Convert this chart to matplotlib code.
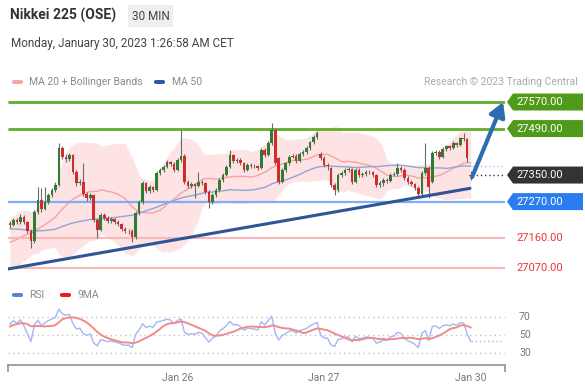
import numpy as np
import pandas as pd
import matplotlib
matplotlib.use("Agg")
import matplotlib.pyplot as plt
import matplotlib.transforms as mtransforms
from matplotlib.patches import Polygon, Rectangle, FancyBboxPatch
from matplotlib.lines import Line2D

plt.rcParams['font.family'] = ['Roboto', 'DejaVu Sans']

# ---------------- data ----------------
warmup_closes = [27230, 27245, 27238, 27250, 27262, 27255, 27248, 27260, 27252, 27240,
                 27235, 27228, 27240, 27232, 27220, 27212, 27225, 27218, 27205, 27198,
                 27210, 27202, 27190, 27182, 27195, 27185, 27172, 27165, 27178, 27160,
                 27150, 27135, 27120, 27105, 27098, 27110, 27102, 27115, 27125, 27118,
                 27135, 27150, 27145, 27165, 27172, 27185, 27180, 27198, 27192, 27205]

opens = [27205, 27200, 27215, 27208, 27225, 27208, 27182, 27150, 27238, 27275,
         27248, 27270, 27290, 27305, 27320, 27430, 27405, 27398, 27410, 27360,
         27325, 27330, 27292, 27280, 27290, 27215, 27185, 27230, 27222, 27212,
         27218, 27208, 27202, 27188, 27180, 27182, 27162, 27236, 27270, 27326,
         27302, 27314, 27306, 27356, 27365, 27374, 27388, 27383, 27366, 27395,
         27408, 27330, 27318, 27322, 27318, 27330, 27326, 27299, 27270, 27290,
         27305, 27335, 27350, 27374, 27410, 27392, 27395, 27385, 27366, 27380,
         27378, 27376, 27372, 27425, 27410, 27446, 27486, 27400, 27330, 27365,
         27385, 27404, 27408, 27392, 27412, 27419, 27430, 27449, 27465, 27412,
         27402, 27380, 27370, 27320, 27305, 27350, 27356, 27366, 27368, 27330,
         27366, 27350, 27352, 27360, 27358, 27350, 27320, 27325, 27335, 27332,
         27350, 27352, 27370, 27366, 27342, 27330, 27322, 27312, 27292, 27356,
         27372, 27330, 27416, 27420, 27405, 27428, 27437, 27432, 27446, 27440,
         27461, 27458, 27350]

highs = [27212, 27222, 27220, 27232, 27230, 27212, 27186, 27245, 27314, 27310,
         27315, 27296, 27312, 27330, 27446, 27436, 27412, 27416, 27414, 27366,
         27338, 27386, 27298, 27296, 27294, 27220, 27236, 27236, 27228, 27224,
         27222, 27214, 27206, 27194, 27188, 27186, 27242, 27276, 27332, 27330,
         27320, 27318, 27362, 27372, 27380, 27394, 27392, 27388, 27400, 27486,
         27412, 27336, 27328, 27326, 27360, 27336, 27330, 27304, 27296, 27310,
         27340, 27356, 27380, 27425, 27414, 27402, 27400, 27390, 27386, 27386,
         27382, 27380, 27430, 27430, 27452, 27507, 27490, 27404, 27370, 27390,
         27410, 27414, 27412, 27418, 27424, 27436, 27454, 27470, 27483, 27418,
         27406, 27386, 27374, 27326, 27356, 27362, 27372, 27374, 27372, 27372,
         27370, 27358, 27366, 27366, 27362, 27354, 27332, 27340, 27340, 27356,
         27358, 27386, 27376, 27370, 27346, 27334, 27326, 27316, 27362, 27446,
         27378, 27422, 27426, 27424, 27434, 27442, 27442, 27452, 27450, 27466,
         27477, 27462, 27362]

lows = [27192, 27196, 27202, 27204, 27202, 27176, 27130, 27146, 27232, 27240,
        27244, 27264, 27284, 27300, 27316, 27398, 27390, 27392, 27354, 27318,
        27320, 27286, 27272, 27274, 27208, 27160, 27180, 27216, 27206, 27206,
        27202, 27196, 27182, 27174, 27172, 27148, 27156, 27230, 27264, 27296,
        27296, 27300, 27302, 27350, 27360, 27370, 27376, 27360, 27362, 27390,
        27324, 27310, 27312, 27281, 27314, 27320, 27294, 27251, 27264, 27284,
        27300, 27330, 27346, 27370, 27386, 27386, 27380, 27360, 27362, 27372,
        27370, 27366, 27368, 27404, 27406, 27440, 27380, 27324, 27326, 27360,
        27380, 27400, 27386, 27388, 27408, 27414, 27426, 27444, 27460, 27396,
        27374, 27366, 27314, 27290, 27300, 27344, 27350, 27360, 27324, 27326,
        27344, 27344, 27346, 27352, 27344, 27314, 27314, 27318, 27326, 27328,
        27346, 27348, 27360, 27336, 27324, 27316, 27306, 27282, 27288, 27350,
        27281, 27326, 27410, 27398, 27400, 27422, 27426, 27428, 27434, 27436,
        27452, 27390, 27335]

closes = [27200, 27215, 27208, 27225, 27208, 27182, 27150, 27238, 27275, 27248,
          27270, 27290, 27305, 27320, 27430, 27405, 27398, 27410, 27360, 27325,
          27330, 27292, 27280, 27290, 27215, 27185, 27230, 27222, 27212, 27218,
          27208, 27202, 27188, 27180, 27182, 27162, 27236, 27270, 27326, 27302,
          27314, 27306, 27356, 27365, 27374, 27388, 27383, 27366, 27395, 27408,
          27330, 27318, 27322, 27318, 27330, 27326, 27299, 27270, 27290, 27305,
          27335, 27350, 27374, 27410, 27392, 27395, 27385, 27366, 27380, 27378,
          27376, 27372, 27425, 27410, 27446, 27486, 27386, 27330, 27365, 27385,
          27404, 27408, 27392, 27412, 27419, 27430, 27449, 27465, 27478, 27402,
          27380, 27376, 27320, 27305, 27350, 27356, 27366, 27368, 27330, 27366,
          27350, 27352, 27360, 27358, 27350, 27320, 27325, 27335, 27332, 27350,
          27352, 27370, 27366, 27342, 27330, 27322, 27312, 27292, 27356, 27372,
          27314, 27416, 27420, 27405, 27428, 27437, 27432, 27446, 27440, 27461,
          27458, 27401, 27348]

date_labels = ['Jan 26', 'Jan 27', 'Jan 30']
date_label_bars = [48, 90, 132]

resistance_levels = [27570, 27490]
pivot_level = 27270
support_levels = [27160, 27070]
last_price_level = 27350
trend_bars = [-0.57, 131.8]
trend_prices = [27067, 27310]
arrow_bars = [132.4, 141.3]
arrow_prices = [27344, 27570]
rsi_levels = [70, 50, 30]

# ---------------- indicators ----------------
n_warm = len(warmup_closes)
allc = pd.Series(warmup_closes + closes, dtype=float)
ma20 = allc.rolling(20).mean()
sd20 = allc.rolling(20).std(ddof=0)
ma50 = allc.rolling(50).mean()
delta = allc.diff()
gain = delta.clip(lower=0)
loss = -delta.clip(upper=0)
ag = gain.ewm(alpha=1 / 14, adjust=False).mean()
al = loss.ewm(alpha=1 / 14, adjust=False).mean()
rsi = 100 - 100 / (1 + ag / al)
rsi9 = rsi.rolling(9).mean()

ma20 = ma20.values[n_warm:]
up_band = ma20 + 2 * sd20.values[n_warm:]
lo_band = ma20 - 2 * sd20.values[n_warm:]
ma50 = ma50.values[n_warm:]
rsi = rsi.values[n_warm:]
rsi9 = rsi9.values[n_warm:]

O = np.array(opens, float)
Hh = np.array(highs, float)
L = np.array(lows, float)
C = np.array(closes, float)
idx = np.arange(len(C))

# ---------------- figure ----------------
W, H = 585, 392
fig = plt.figure(figsize=(W / 100, H / 100), dpi=100)
fig.patch.set_facecolor('white')

BAR_PX = 3.49
X0 = (8 - 10) / BAR_PX
X1 = (505 - 10) / BAR_PX

ax = fig.add_axes([8 / W, 1 - 285 / H, 497 / W, 197 / H])
ax.set_xlim(X0, X1)
ax.set_ylim(27018.8, 27612.2)
ax.axis('off')
px_per_price = 197 / (27612.2 - 27018.8)

# bollinger & MAs
ax.fill_between(idx, lo_band, up_band, color='#fde3e3', lw=0, zorder=1)
ax.plot(idx, ma20, color='#f6a3a3', lw=1.0, zorder=2)
ax.plot(idx, ma50, color='#8fa6d6', lw=1.0, zorder=2)

# horizontal levels
ax.hlines(resistance_levels, X0, X1, colors='#62ad2a', lw=2.0, zorder=2.5)
ax.hlines(pivot_level, X0, X1, colors='#82acf5', lw=1.6, zorder=2.5)
ax.hlines(support_levels, X0, X1, colors='#f9b7b7', lw=1.5, zorder=2.5)

# candles
colors = np.where(C >= O, '#2e7d32', '#d32a2a')
ax.vlines(idx, L, Hh, colors='#6b6b6b', lw=0.8, zorder=3)
body_h = np.maximum(np.abs(C - O), 1.5)
ax.bar(idx, body_h, bottom=np.minimum(O, C), width=0.75, color=colors,
       linewidth=0, zorder=4)

# trend line
ax.plot(trend_bars, trend_prices, color='#2d5597', lw=2.2, zorder=5,
        solid_capstyle='round')

# dotted extensions
ax.hlines(last_price_level, idx[-1] + 0.3, X1, colors='#333333',
          linestyles=(0, (1, 2)), lw=1, zorder=3)
ax.hlines(ma50[-1], idx[-1] + 0.3, X1, colors='#a9c0ee',
          linestyles=(0, (1, 2)), lw=1, zorder=3)

# arrow
ax.annotate('', xy=(arrow_bars[1], arrow_prices[1]),
            xytext=(arrow_bars[0], arrow_prices[0]),
            arrowprops=dict(arrowstyle='-|>,head_length=0.7,head_width=0.4',
                            lw=3, color='#2e6bb3', shrinkA=0, shrinkB=0,
                            mutation_scale=12),
            zorder=6, annotation_clip=False)

# right-side price tags
trans = mtransforms.blended_transform_factory(fig.transFigure, ax.transData)
half = 8.5 / px_per_price


def tag(price, face):
    verts = [(507 / W, price), (513 / W, price + half), (583 / W, price + half),
             (583 / W, price - half), (513 / W, price - half)]
    ax.add_patch(Polygon(verts, closed=True, transform=trans, facecolor=face,
                         edgecolor='none', clip_on=False, zorder=7))
    ax.text(516 / W, price, f'{price:.2f}', transform=trans, ha='left',
            va='center', color='white', fontsize=8, clip_on=False, zorder=8)


for lv in resistance_levels:
    tag(lv, '#4f9a18')
tag(last_price_level, '#333333')
tag(pivot_level, '#2a7cf0')
for lv in support_levels:
    ax.text(516 / W, lv, f'{lv:.2f}', transform=trans, ha='left', va='center',
            color='#ee3535', fontsize=8, clip_on=False)

# ---------------- RSI panel ----------------
r_top, r_bot = 300, 365
rax = fig.add_axes([8 / W, 1 - r_bot / H, 497 / W, (r_bot - r_top) / H])
rax.set_xlim(X0, X1)
rax.set_ylim(50 - (r_bot - 335) / 0.9167, 50 + (335 - r_top) / 0.9167)
for s in ['top', 'left', 'right']:
    rax.spines[s].set_visible(False)
rax.spines['bottom'].set_color('#9a9a9a')
rax.spines['bottom'].set_linewidth(1.3)
rax.set_yticks([])
rax.set_xticks(date_label_bars, date_labels)
rax.tick_params(axis='x', length=0, pad=6, labelsize=7.5, labelcolor='#777777')
rax.hlines(rsi_levels, X0, X1, colors='#c4c4c4', linestyles=(0, (1, 2.5)), lw=1)
rax.plot(idx, rsi, color='#a3b8f2', lw=1.0, zorder=3)
rax.plot(idx, rsi9, color='#f28a8a', lw=1.4, zorder=4)
rax.hlines(rsi[-1], idx[-1], X1, colors='#a3b8f2', linestyles=(0, (1, 2)), lw=1)
rtrans = mtransforms.blended_transform_factory(fig.transFigure, rax.transData)
for lv in rsi_levels:
    rax.text(519 / W, lv, str(lv), transform=rtrans, ha='left', va='center',
             fontsize=7.5, color='#777777', clip_on=False)
for xp in (8, 505):
    fig.add_artist(Line2D([xp / W, xp / W], [1 - 365 / H, 1 - 371 / H],
                          transform=fig.transFigure, color='#9a9a9a', lw=1.3))

# ---------------- header texts & legends ----------------
fig.text(10 / W, 1 - 15 / H, 'Nikkei 225 (OSE)', fontsize=10, fontweight='bold',
         color='#333333', va='center', ha='left')
fig.add_artist(Rectangle((128 / W, 1 - 27 / H), 45 / W, 22 / H,
                         transform=fig.transFigure, facecolor='#eeeeee',
                         edgecolor='none'))
fig.text(150.5 / W, 1 - 16 / H, '30 MIN', fontsize=8.5, color='#444444',
         va='center', ha='center')
fig.text(11 / W, 1 - 44 / H, 'Monday, January 30, 2023 1:26:58 AM CET',
         fontsize=8.5, color='#444444', va='center', ha='left')


def swatch(x, y, color):
    fig.add_artist(FancyBboxPatch((x / W, 1 - (y + 2) / H), 11 / W, 4 / H,
                                  boxstyle='round,pad=0,rounding_size=0.004',
                                  transform=fig.transFigure, facecolor=color,
                                  edgecolor='none'))


swatch(12, 82, '#f7a3a3')
fig.text(29 / W, 1 - 82 / H, 'MA 20 + Bollinger Bands', fontsize=7.5,
         color='#8a8a8a', va='center', ha='left')
swatch(154, 82, '#2c5aa0')
fig.text(172 / W, 1 - 82 / H, 'MA 50', fontsize=7.5, color='#8a8a8a',
         va='center', ha='left')
fig.text(578 / W, 1 - 82 / H, 'Research \u00a9 2023 Trading Central', fontsize=7.5,
         color='#aaaaaa', va='center', ha='right')

swatch(12, 295, '#5b80e0')
fig.text(29 / W, 1 - 295 / H, 'RSI', fontsize=7.5, color='#8a8a8a',
         va='center', ha='left')
swatch(60, 295, '#ee1c1c')
fig.text(78 / W, 1 - 295 / H, '9MA', fontsize=7.5, color='#8a8a8a',
         va='center', ha='left')

fig.savefig('out.png', dpi=100, facecolor='white')
